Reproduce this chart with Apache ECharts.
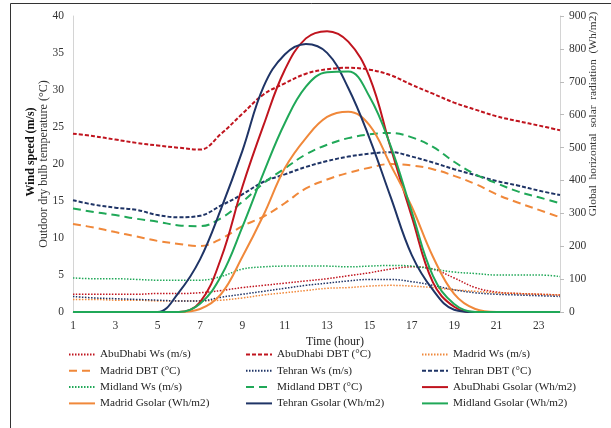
<!DOCTYPE html>
<html>
<head>
<meta charset="utf-8">
<script src="https://cdn.jsdelivr.net/npm/echarts@6/dist/echarts.min.js"></script>
<style>
  html, body { margin: 0; padding: 0; background: #fff; }
  #chart { width: 611px; height: 428px; }
</style>
</head>
<body>
<div id="chart"></div>
<script>
// hours on the x axis
var hours = ['1','2','3','4','5','6','7','8','9','10','11','12','13','14','15','16','17','18','19','20','21','22','23','24'];

// wind speed (m/s), left axis
var abuWs    = [2.4,2.4,2.4,2.4,2.5,2.5,2.6,2.9,3.3,3.6,3.9,4.2,4.5,4.9,5.3,5.8,6.1,5.8,4.6,3.3,2.7,2.5,2.4,2.3];
var madridWs = [1.7,1.7,1.6,1.6,1.5,1.5,1.5,1.6,1.9,2.3,2.6,2.9,3.2,3.3,3.5,3.6,3.5,3.3,3.0,2.8,2.6,2.5,2.4,2.3];
var tehranWs = [2.1,1.9,1.8,1.7,1.6,1.5,1.5,2.0,2.4,2.8,3.2,3.6,3.9,4.2,4.4,4.4,4.1,3.6,3.0,2.6,2.4,2.3,2.2,2.1];
var midWs    = [4.6,4.5,4.5,4.4,4.3,4.3,4.3,4.8,5.8,6.1,6.2,6.2,6.2,6.1,6.2,6.3,6.2,5.8,5.4,5.2,5.0,5.0,5.0,4.8];

// dry bulb temperature (°C), left axis
var abuDbt    = [24.1,23.75,23.3,22.85,22.5,22.2,21.95,24.1,26.8,29.4,30.9,32.2,32.8,33.0,32.75,32.0,30.7,29.5,28.3,27.35,26.45,25.8,25.2,24.55];
var madridDbt = [11.9,11.4,10.8,10.2,9.6,9.2,8.9,9.9,11.6,12.9,14.7,16.7,17.9,18.8,19.5,20.0,19.8,19.3,18.4,17.3,15.9,14.8,13.8,12.8];
var tehranDbt = [15.1,14.5,14.1,13.8,13.1,12.8,13.0,14.4,15.9,17.6,18.6,19.6,20.4,21.0,21.4,21.6,21.0,20.2,19.3,18.5,17.7,17.1,16.4,15.8];
var midDbt    = [14.0,13.5,13.1,12.6,12.2,11.7,11.6,12.7,14.9,17.4,19.4,21.3,22.6,23.5,24.0,24.2,23.6,22.3,20.3,18.6,17.4,16.3,15.5,14.7];

// global horizontal solar radiation (Wh/m2), right axis
var abuG    = [0,0,0,0,0,0,30,165,381,568,736,832,854,822,715,500,290,90,16,0,0,0,0,0];
var madridG = [0,0,0,0,0,0,9,55,168,295,437,529,593,609,568,447,320,168,55,9,0,0,0,0];
var tehranG = [0,0,0,0,0,60,160,315,490,685,783,815,788,681,529,350,173,67,7,0,0,0,0,0];
var midG    = [0,0,0,0,0,0,25,110,259,423,574,685,729,731,655,505,305,110,24,0,0,0,0,0];

var cAbu = '#c0141e', cMad = '#f0883a', cTeh = '#1f3466', cMid = '#20a858';
var serif = '"Liberation Serif", "DejaVu Serif", serif';

function line(name, data, color, type, width, axis) {
    return {
        name: name, type: 'line', data: data, yAxisIndex: axis,
        symbol: 'none', smooth: 0.4, color: color,
        lineStyle: { color: color, width: width, type: type }
    };
}

var dot = [1.5, 1.5], shortDash = [4, 2], longDash = [8, 5];

var myChart = echarts.init(document.getElementById('chart'));

var legendText = { fontFamily: serif, fontSize: 11.2, color: '#222' };
// legend in three columns, one legend per column
function col(left, names) {
    return {
        orient: 'vertical', left: left, top: 349, padding: 0,
        itemWidth: 26, itemHeight: 12, itemGap: 5.3,
        itemStyle: { opacity: 0 },
        textStyle: legendText, data: names
    };
}

var option = {
    animation: false,
    grid: { left: 73, right: 51, top: 16, bottom: 116 },
    legend: [
        col(68, ['AbuDhabi Ws (m/s)', 'Madrid DBT (°C)', 'Midland Ws (m/s)', 'Madrid Gsolar (Wh/m2)']),
        col(245, ['AbuDhabi DBT (°C)', 'Tehran Ws (m/s)', 'Midland DBT (°C)', 'Tehran Gsolar (Wh/m2)']),
        col(421, ['Madrid Ws (m/s)', 'Tehran DBT (°C)', 'AbuDhabi Gsolar (Wh/m2)', 'Midland Gsolar (Wh/m2)'])
    ],
    xAxis: {
        type: 'category', data: hours, boundaryGap: false,
        axisLine: { lineStyle: { color: '#d4d4d4' } },
        axisTick: { show: false },
        axisLabel: { interval: 1, margin: 8, fontFamily: serif, fontSize: 11.5, color: '#333' }
    },
    yAxis: [
        {
            type: 'value', min: 0, max: 40, interval: 5,
            axisLine: { show: true, lineStyle: { color: '#d4d4d4' } },
            axisTick: { show: false },
            splitLine: { show: false },
            axisLabel: { margin: 9, fontFamily: serif, fontSize: 11.5, color: '#333' }
        },
        {
            type: 'value', min: 0, max: 900, interval: 100, position: 'right',
            axisLine: { show: true, lineStyle: { color: '#d4d4d4' } },
            axisTick: { show: true, length: 4, lineStyle: { color: '#bbb' } },
            splitLine: { show: false },
            axisLabel: { margin: 9, fontFamily: serif, fontSize: 11.5, color: '#333' }
        }
    ],
    graphic: [
        { type: 'rect', shape: { x: 10.5, y: 3.5, width: 700, height: 600 }, style: { fill: 'none', stroke: '#333', lineWidth: 1 }, silent: true },
        { type: 'text', x: 31, y: 152, rotation: Math.PI / 2,
          style: { text: 'Wind speed (m/s)', fontFamily: serif, fontSize: 12, fontWeight: 'bold', fill: '#111', align: 'center', verticalAlign: 'middle' } },
        { type: 'text', x: 44, y: 164, rotation: Math.PI / 2,
          style: { text: 'Outdoor dry bulb temperature (°C)', fontFamily: serif, fontSize: 12, fill: '#333', align: 'center', verticalAlign: 'middle' } },
        { type: 'text', x: 593, y: 114, rotation: Math.PI / 2,
          style: { text: 'Global  horizontal  solar  radiation  (Wh/m2)', fontFamily: serif, fontSize: 11.4, fill: '#333', align: 'center', verticalAlign: 'middle' } },
        { type: 'text', x: 335, y: 342,
          style: { text: 'Time (hour)', fontFamily: serif, fontSize: 12, fill: '#222', align: 'center', verticalAlign: 'middle' } }
    ],
    series: [
        line('AbuDhabi Ws (m/s)', abuWs, cAbu, dot, 1.5, 0),
        line('AbuDhabi DBT (°C)', abuDbt, cAbu, shortDash, 2, 0),
        line('Madrid Ws (m/s)', madridWs, cMad, dot, 1.5, 0),
        line('Madrid DBT (°C)', madridDbt, cMad, longDash, 2, 0),
        line('Tehran Ws (m/s)', tehranWs, cTeh, dot, 1.5, 0),
        line('Tehran DBT (°C)', tehranDbt, cTeh, shortDash, 2, 0),
        line('Midland Ws (m/s)', midWs, cMid, dot, 1.5, 0),
        line('Midland DBT (°C)', midDbt, cMid, longDash, 2, 0),
        line('AbuDhabi Gsolar (Wh/m2)', abuG, cAbu, 'solid', 2, 1),
        line('Madrid Gsolar (Wh/m2)', madridG, cMad, 'solid', 2, 1),
        line('Tehran Gsolar (Wh/m2)', tehranG, cTeh, 'solid', 2, 1),
        line('Midland Gsolar (Wh/m2)', midG, cMid, 'solid', 2, 1)
    ]
};

myChart.setOption(option);
</script>
</body>
</html>
